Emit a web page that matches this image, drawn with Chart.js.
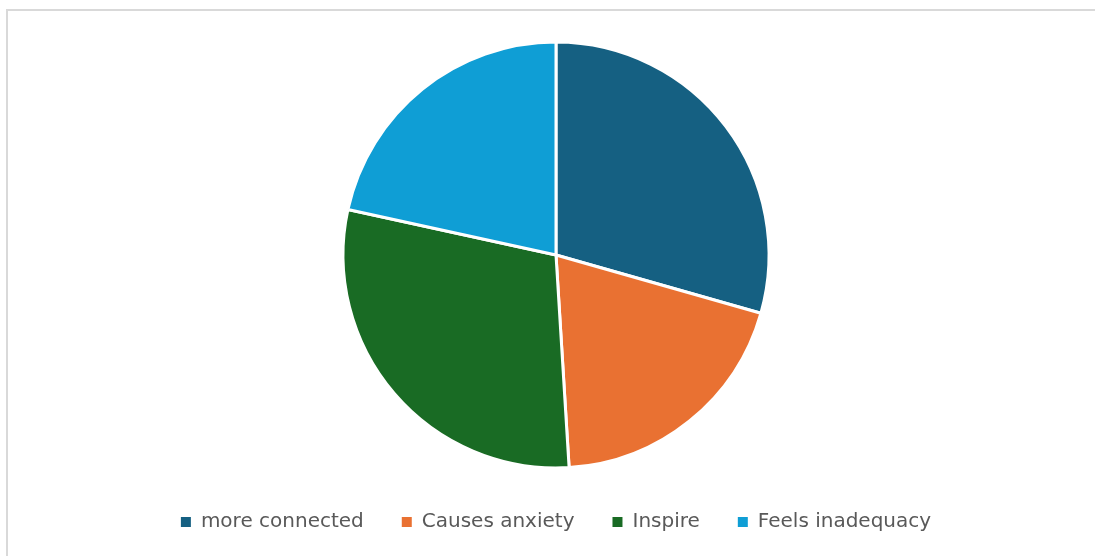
<!DOCTYPE html>
<html>
<head>
<meta charset="utf-8">
<script src="https://cdn.jsdelivr.net/npm/chart.js@4/dist/chart.umd.min.js"></script>
<style>
  html, body { margin: 0; padding: 0; background: #fff; overflow: hidden; }
  canvas { display: block; }
</style>
</head>
<body>
<canvas id="chart" width="1095" height="556"></canvas>
<script>
const labels = ['more connected', 'Causes anxiety', 'Inspire', 'Feels inadequacy'];
const values = [30, 20, 30, 22];
const colors = ['#156082', '#E97132', '#196B24', '#0F9ED5'];

const baseLabels = Chart.overrides.pie.plugins.legend.labels.generateLabels;

// light grey frame on the top and left edges only
const framePlugin = {
  id: 'frame',
  beforeDraw(chart) {
    const c = chart.ctx;
    c.save();
    c.strokeStyle = '#d9d9d9';
    c.lineWidth = 2;
    c.beginPath();
    c.moveTo(7, chart.height);
    c.lineTo(7, 10);
    c.lineTo(chart.width, 10);
    c.stroke();
    c.restore();
  }
};

const ctx = document.getElementById('chart').getContext('2d');
new Chart(ctx, {
  type: 'pie',
  data: {
    labels: labels,
    datasets: [{
      data: values,
      backgroundColor: colors,
      borderColor: '#ffffff',
      borderWidth: 3
    }]
  },
  options: {
    responsive: false,
    animation: false,
    radius: 213,
    layout: { padding: { top: 36, bottom: 14, left: 17, right: 0 } },
    plugins: {
      tooltip: { enabled: false },
      legend: {
        position: 'bottom',
        labels: {
          boxWidth: 10,
          boxHeight: 10,
          padding: 38,
          color: '#595959',
          font: { family: 'DejaVu Sans', size: 20 },
          generateLabels: (chart) => baseLabels(chart).map(l => Object.assign(l, { lineWidth: 0 }))
        }
      }
    }
  },
  plugins: [framePlugin]
});
</script>
</body>
</html>
